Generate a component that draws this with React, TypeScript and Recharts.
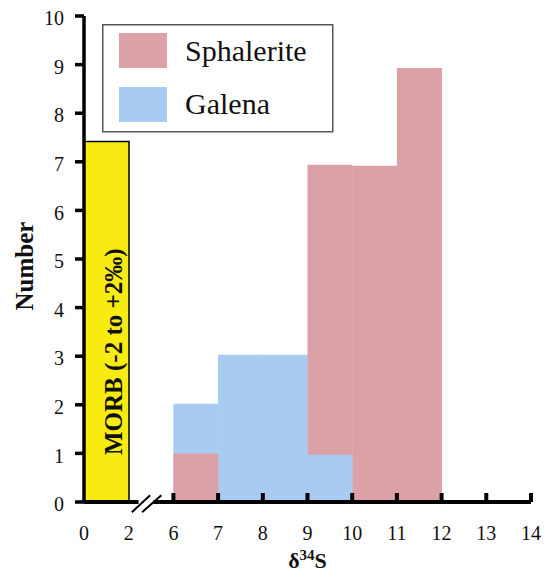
import { Bar, ComposedChart, Legend, ReferenceLine, XAxis, YAxis } from 'recharts'

// bins on a broken axis: 0–2 (MORB), the 2–6 gap, then 1‰ bins 6–14
const bins = ['0-2', '2-6', '6-7', '7-8', '8-9', '9-10', '10-11', '11-12', '12-13', '13-14']
const morb = [7.42, null, null, null, null, null, null, null, null, null]
const galena = [null, null, 2.02, 3.03, 3.03, 0.97, null, null, null, null]
const sphalerite = [null, null, 1, null, null, 6.94, 6.92, 8.93, null, null]

// x positions on the broken axis and the labels shown there
const xTicks = [0, 1, 2, 3, 4, 5, 6, 7, 8, 9, 10]
const xTickLabels = ['0', '2', '6', '7', '8', '9', '10', '11', '12', '13', '14']
const yTicks = [0, 1, 2, 3, 4, 5, 6, 7, 8, 9, 10]

const SERIF = '"Liberation Serif", "Times New Roman", serif'
const PINK = '#DBA1A7'
const BLUE = '#A8CCF1'
const YELLOW = '#F7EB12'

// galena is drawn again in front where it is the shorter bar
const galenaFront = galena.map((g, i) => {
  const s = sphalerite[i]
  return g != null && s != null && g < s ? g : null
})

const rows = bins.map((bin, i) => ({
  bin,
  pos: i + 0.5,
  morb: morb[i],
  galena: galena[i],
  sphalerite: sphalerite[i],
  galenaFront: galenaFront[i],
}))

const legendItems = [
  { name: 'Sphalerite', color: PINK },
  { name: 'Galena', color: BLUE },
]

function LegendBox() {
  return (
    <svg width={232} height={109} style={{ display: 'block' }}>
      <rect x={0.75} y={0.75} width={230} height={107} fill="#fff" stroke="#555" strokeWidth={1.5} />
      {legendItems.map((item, i) => (
        <g key={item.name}>
          <rect x={17} y={9 + i * 54} width={48} height={35} fill={item.color} />
          <text x={83} y={37 + i * 53} fontSize={30} fontFamily={SERIF} fill="#111">
            {item.name}
          </text>
        </g>
      ))}
    </svg>
  )
}

const AXIS_Y = 502

function XTick({ x, payload }: any) {
  const label = xTickLabels[xTicks.indexOf(payload.value)]
  return (
    <text x={x} y={AXIS_Y + 38} textAnchor="middle" fontSize={20} fontFamily={SERIF} fill="#111">
      {label}
    </text>
  )
}

function MorbLabel({ x, y, width, height, index }: any) {
  if (index !== 0) return null
  const tx = x + width / 2 + 15
  const ty = y + height - 47
  return (
    <text
      x={tx}
      y={ty}
      transform={`rotate(-90 ${tx} ${ty})`}
      fontSize={25}
      fontWeight="bold"
      fontFamily={SERIF}
      fill="#111"
    >
      MORB (-2 to +2‰)
    </text>
  )
}

export default function App() {
  const axisStroke = '#000'
  return (
    <div style={{ position: 'absolute', left: 0, top: 0, width: 550, height: 575, background: '#fff' }}>
      <ComposedChart
        width={550}
        height={575}
        data={rows}
        margin={{ top: 16, right: 19, bottom: 0, left: 0 }}
        barCategoryGap={0}
        barGap={0}
      >
        <XAxis
          xAxisId="num"
          dataKey="pos"
          type="number"
          domain={[0, 10]}
          ticks={xTicks}
          allowDataOverflow
          height={73}
          axisLine={false}
          tickLine={false}
          tickSize={0}
          tickMargin={0}
          tick={<XTick />}
          interval={0}
          label={() => (
            <text
              x={307.5}
              y={AXIS_Y + 66}
              textAnchor="middle"
              fontSize={22}
              fontWeight="bold"
              fontFamily={SERIF}
              fill="#111"
            >
              δ<tspan fontSize={15} dy={-8}>34</tspan>
              <tspan dy={8}>S</tspan>
            </text>
          )}
        />
        <XAxis xAxisId="m" dataKey="bin" type="category" height={0} hide />
        <XAxis xAxisId="g" dataKey="bin" type="category" height={0} hide />
        <XAxis xAxisId="s" dataKey="bin" type="category" height={0} hide />
        <XAxis xAxisId="f" dataKey="bin" type="category" height={0} hide />
        <YAxis
          type="number"
          domain={[0, 10]}
          ticks={yTicks}
          interval={0}
          width={84}
          axisLine={{ stroke: axisStroke, strokeWidth: 3.5 }}
          tickLine={{ stroke: axisStroke, strokeWidth: 3.5 }}
          tickSize={9}
          tickMargin={11}
          tick={{ fontSize: 20, fontFamily: SERIF, fill: '#111', dy: 2 }}
          label={({ viewBox }: any) => (
            <text
              x={33}
              y={viewBox.y + viewBox.height / 2 + 7}
              transform={`rotate(-90 33 ${viewBox.y + viewBox.height / 2 + 7})`}
              textAnchor="middle"
              fontSize={25}
              fontWeight="bold"
              fontFamily={SERIF}
              fill="#111"
            >
              Number
            </text>
          )}
        />
        <Legend
          layout="horizontal"
          verticalAlign="middle"
          align="center"
          content={() => <LegendBox />}
          wrapperStyle={{ position: 'absolute', left: 102, top: 24, width: 232, height: 109 }}
        />
        <Bar
          xAxisId="m"
          dataKey="morb"
          name="MORB"
          fill={YELLOW}
          stroke="#000"
          strokeWidth={1.5}
          legendType="none"
          isAnimationActive={false}
          label={<MorbLabel />}
        />
        <Bar xAxisId="g" dataKey="galena" name="Galena" fill={BLUE} isAnimationActive={false} />
        <Bar xAxisId="s" dataKey="sphalerite" name="Sphalerite" fill={PINK} isAnimationActive={false} />
        <Bar xAxisId="f" dataKey="galenaFront" fill={BLUE} legendType="none" isAnimationActive={false} />

        {/* broken x axis line with tick marks pointing up */}
        <ReferenceLine
          xAxisId="num"
          segment={[{ x: 0, y: 0 }, { x: 1.22, y: 0 }]}
          stroke={axisStroke}
          strokeWidth={4}
          ifOverflow="visible"
        />
        <ReferenceLine
          xAxisId="num"
          segment={[{ x: 1.55, y: 0 }, { x: 10, y: 0 }]}
          stroke={axisStroke}
          strokeWidth={4}
          ifOverflow="visible"
        />
        <ReferenceLine
          xAxisId="num"
          segment={[{ x: 1.07, y: -0.21 }, { x: 1.48, y: 0.14 }]}
          stroke={axisStroke}
          strokeWidth={2}
          ifOverflow="visible"
        />
        <ReferenceLine
          xAxisId="num"
          segment={[{ x: 1.3, y: -0.21 }, { x: 1.73, y: 0.14 }]}
          stroke={axisStroke}
          strokeWidth={2}
          ifOverflow="visible"
        />
        {xTicks.slice(2).map((t) => (
          <ReferenceLine
            key={t}
            xAxisId="num"
            segment={[{ x: t, y: 0 }, { x: t, y: 0.185 }]}
            stroke={axisStroke}
            strokeWidth={4}
            ifOverflow="visible"
          />
        ))}
      </ComposedChart>
    </div>
  )
}
